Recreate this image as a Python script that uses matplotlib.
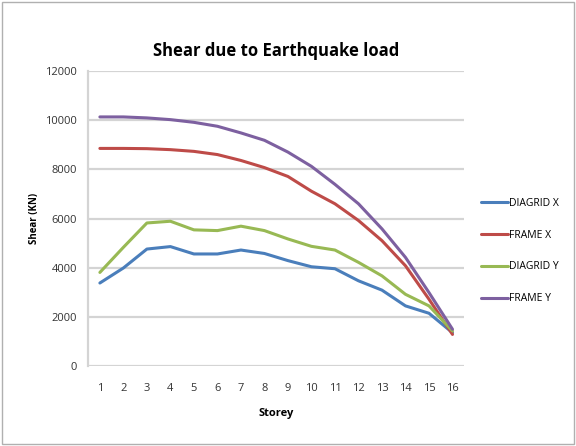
import matplotlib
matplotlib.use('Agg')
import matplotlib.pyplot as plt
from matplotlib.patches import Rectangle

plt.rcParams['font.family'] = ['Open Sans', 'DejaVu Sans']

# storey-wise shear values (KN)
storeys = list(range(1, 17))
diagrid_x = [3380, 3990, 4760, 4860, 4560, 4560, 4720, 4580, 4290, 4040, 3960, 3470, 3090, 2450, 2150, 1360]
frame_x = [8850, 8850, 8840, 8800, 8730, 8600, 8360, 8070, 7710, 7110, 6600, 5920, 5100, 4080, 2720, 1290]
diagrid_y = [3810, 4830, 5820, 5890, 5540, 5510, 5690, 5510, 5170, 4870, 4720, 4220, 3670, 2920, 2450, 1430]
frame_y = [10130, 10130, 10090, 10020, 9910, 9750, 9480, 9180, 8700, 8120, 7390, 6600, 5580, 4420, 2990, 1500]

series = [
    ('DIAGRID X', diagrid_x, '#4a7ebb'),
    ('FRAME X', frame_x, '#be4b48'),
    ('DIAGRID Y', diagrid_y, '#98b954'),
    ('FRAME Y', frame_y, '#7d60a0'),
]

fig = plt.figure(figsize=(5.76, 4.46), dpi=100)
ax = fig.add_axes([0.153, 0.179, 0.653, 0.662])

for name, vals, col in series:
    ax.plot(storeys, vals, color=col, lw=2.2, label=name, solid_capstyle='round')

ax.set_xlim(0.5, 16.5)
ax.set_ylim(0, 12000)
ax.set_yticks(range(0, 12001, 2000))
ax.set_xticks(storeys)
ax.grid(axis='y', color='#d4d4d4', lw=1.6)
ax.set_axisbelow(True)
for s in ['top', 'right', 'bottom']:
    ax.spines[s].set_visible(False)
ax.spines['left'].set_color('#d4d4d4')
ax.spines['left'].set_linewidth(1.6)
ax.tick_params(axis='both', length=0, labelsize=8, colors='#333333', pad=8)
ax.tick_params(axis='x', pad=12)

ax.set_title('Shear due to Earthquake load', fontsize=12, fontweight='bold', pad=11)
ax.set_xlabel('Storey', fontsize=8, fontweight='bold', labelpad=10)
ax.set_ylabel('Shear (KN)', fontsize=7, fontweight='bold', labelpad=4)

ax.legend(loc='center left', bbox_to_anchor=(1.02, 0.39), frameon=False,
          fontsize=7.5, handlelength=2.6, handletextpad=0.1, labelspacing=2.0)

fig.patches.append(Rectangle((0.003, 0.004), 0.994, 0.992, transform=fig.transFigure,
                             fill=False, edgecolor='#b0b0b0', lw=1))

fig.savefig('out.png', dpi=100)
